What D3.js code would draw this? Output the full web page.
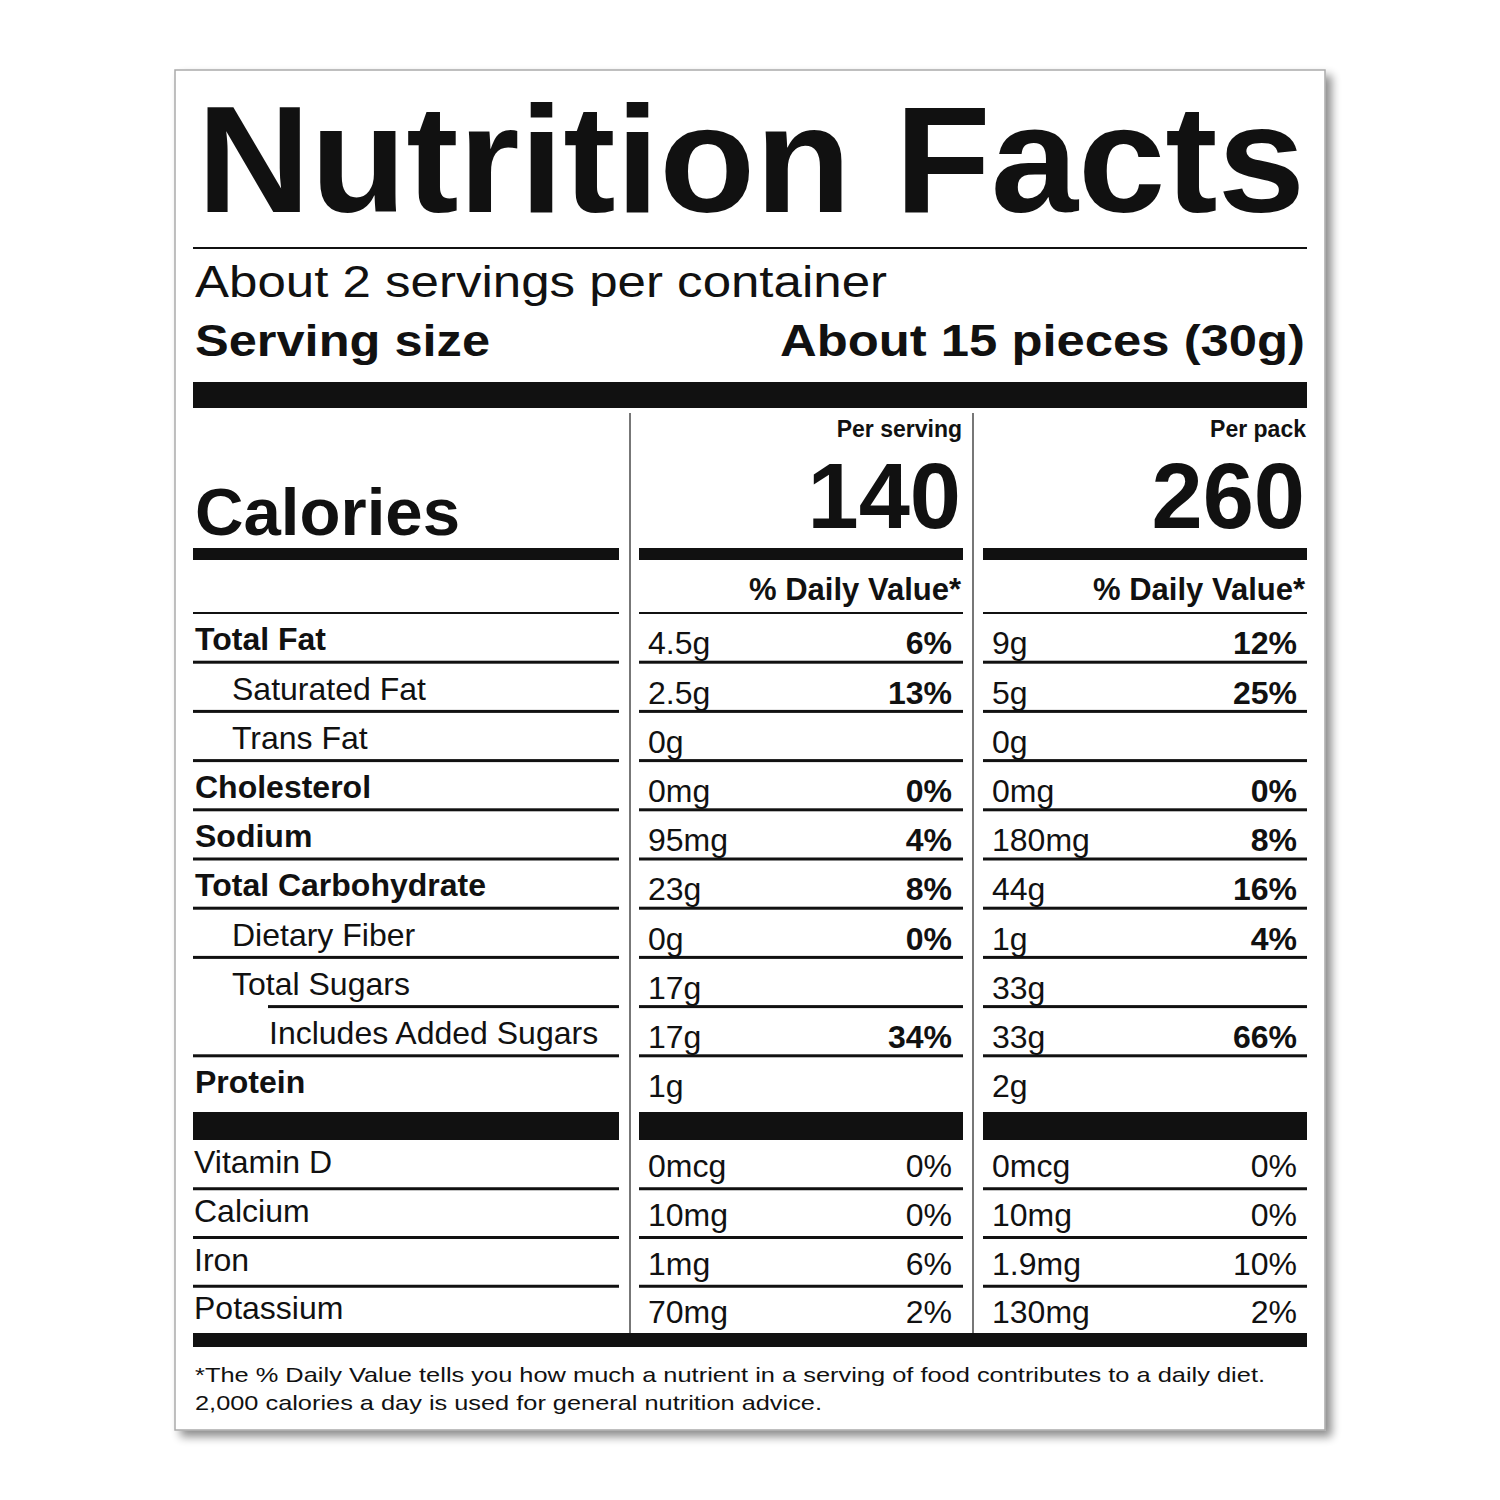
<!DOCTYPE html>
<html><head><meta charset="utf-8">
<script src="https://cdn.jsdelivr.net/npm/d3@7"></script>
<style>body{margin:0;background:#fff}</style>
</head><body>
<script>
const nutrients = ["Total Fat","Saturated Fat","Trans Fat","Cholesterol","Sodium","Total Carbohydrate","Dietary Fiber","Total Sugars","Includes Added Sugars","Protein"];
const indent = [0,1,1,0,0,0,1,1,2,0];
const servingAmt = ["4.5g","2.5g","0g","0mg","95mg","23g","0g","17g","17g","1g"];
const servingPct = ["6%","13%","","0%","4%","8%","0%","","34%",""];
const packAmt = ["9g","5g","0g","0mg","180mg","44g","1g","33g","33g","2g"];
const packPct = ["12%","25%","","0%","8%","16%","4%","","66%",""];
const vitamins = ["Vitamin D","Calcium","Iron","Potassium"];
const vitServingAmt = ["0mcg","10mg","1mg","70mg"];
const vitServingPct = ["0%","0%","6%","2%"];
const vitPackAmt = ["0mcg","10mg","1.9mg","130mg"];
const vitPackPct = ["0%","0%","10%","2%"];
const calories = [140, 260];
const colHeads = ["Per serving","Per pack"];

const F = "'Liberation Sans', Arial, Helvetica, sans-serif";
const svg = d3.select("body").append("svg").attr("width",1500).attr("height",1500);
const defs = svg.append("defs");
const f = defs.append("filter").attr("id","sh").attr("x","-5%").attr("y","-5%").attr("width","115%").attr("height","115%");
f.append("feGaussianBlur").attr("in","SourceAlpha").attr("stdDeviation",5);
f.append("feOffset").attr("dx",6).attr("dy",6).attr("result","o");
f.append("feComponentTransfer").attr("in","o").attr("result","b").append("feFuncA").attr("type","linear").attr("slope",0.45);
const m=f.append("feMerge"); m.append("feMergeNode").attr("in","b"); m.append("feMergeNode").attr("in","SourceGraphic");
svg.append("rect").attr("x",175).attr("y",70).attr("width",1150).attr("height",1360).attr("fill","#fff").attr("stroke","#aaa").attr("stroke-width",1.5).attr("filter","url(#sh)");

const ink="#111";
const L=193, R=1307;
const cols=[{x0:193,x1:619},{x0:639,x1:963},{x0:983,x1:1307}];
function txt(x,y,s,size,weight,anchor){return svg.append("text").attr("x",x).attr("y",y).text(s).attr("font-family",F).attr("font-size",size).attr("font-weight",weight||"normal").attr("text-anchor",anchor||"start").attr("fill",ink);}
function fit(t,len){return t.attr("textLength",len).attr("lengthAdjust","spacingAndGlyphs");}
function hline(x0,x1,y,w){svg.append("rect").attr("x",x0).attr("y",y-w/2).attr("width",x1-x0).attr("height",w).attr("fill",ink);}

fit(txt(197,212,"Nutrition Facts",152,"bold"),1108);
hline(L,R,248,2);
fit(txt(195,297,"About 2 servings per container",45),692);
fit(txt(195,356,"Serving size",45,"bold"),295);
fit(txt(1305,356,"About 15 pieces (30g)",45,"bold","end"),525);
hline(L,R,395,26);

const y = d3.scaleLinear().domain([0,nutrients.length]).range([613,1105]);
const rowH = y(1)-y(0);
[630,973].forEach(x=>svg.append("rect").attr("x",x-1).attr("y",413).attr("width",2).attr("height",920).attr("fill","#777"));

fit(txt(195,535,"Calories",66,"bold"),265);
colHeads.forEach((h,i)=>{
  const c=cols[i+1];
  txt(c.x1-1,437,h,23,"bold","end");
  txt(c.x1-2,528,calories[i],92,"bold","end");
  txt(c.x1-2,600,"% Daily Value*",31,"bold","end");
});
cols.forEach(c=>hline(c.x0,c.x1,554,12));
cols.forEach(c=>hline(c.x0,c.x1,613,2));

nutrients.forEach((n,i)=>{
  const base=y(i)+rowH*0.76, bot=y(i+1);
  txt(195+indent[i]*37,base,n,32,indent[i]===0?"bold":"normal");
  txt(648,base+4,servingAmt[i],32);
  txt(952,base+4,servingPct[i],32,"bold","end");
  txt(992,base+4,packAmt[i],32);
  txt(1297,base+4,packPct[i],32,"bold","end");
  if(i<nutrients.length-1){
    hline(indent[i+1]===2?268:L,619,bot,3);
    hline(cols[1].x0,cols[1].x1,bot,3);
    hline(cols[2].x0,cols[2].x1,bot,3);
  }
});
cols.forEach(c=>hline(c.x0,c.x1,1126,28));

const yv = d3.scaleLinear().domain([0,vitamins.length]).range([1140,1335]);
const vH = yv(1)-yv(0);
vitamins.forEach((v,i)=>{
  const base=yv(i)+vH*0.68;
  txt(194,base,v,32);
  txt(648,base+4,vitServingAmt[i],32);
  txt(952,base+4,vitServingPct[i],32,"normal","end");
  txt(992,base+4,vitPackAmt[i],32);
  txt(1297,base+4,vitPackPct[i],32,"normal","end");
  if(i<vitamins.length-1) cols.forEach(c=>hline(c.x0,c.x1,yv(i+1),3));
});
hline(L,R,1340,14);
fit(txt(195,1382,"*The % Daily Value tells you how much a nutrient in a serving of food contributes to a daily diet.",21),1070);
fit(txt(195,1410,"2,000 calories a day is used for general nutrition advice.",21),627);
</script>
</body></html>
